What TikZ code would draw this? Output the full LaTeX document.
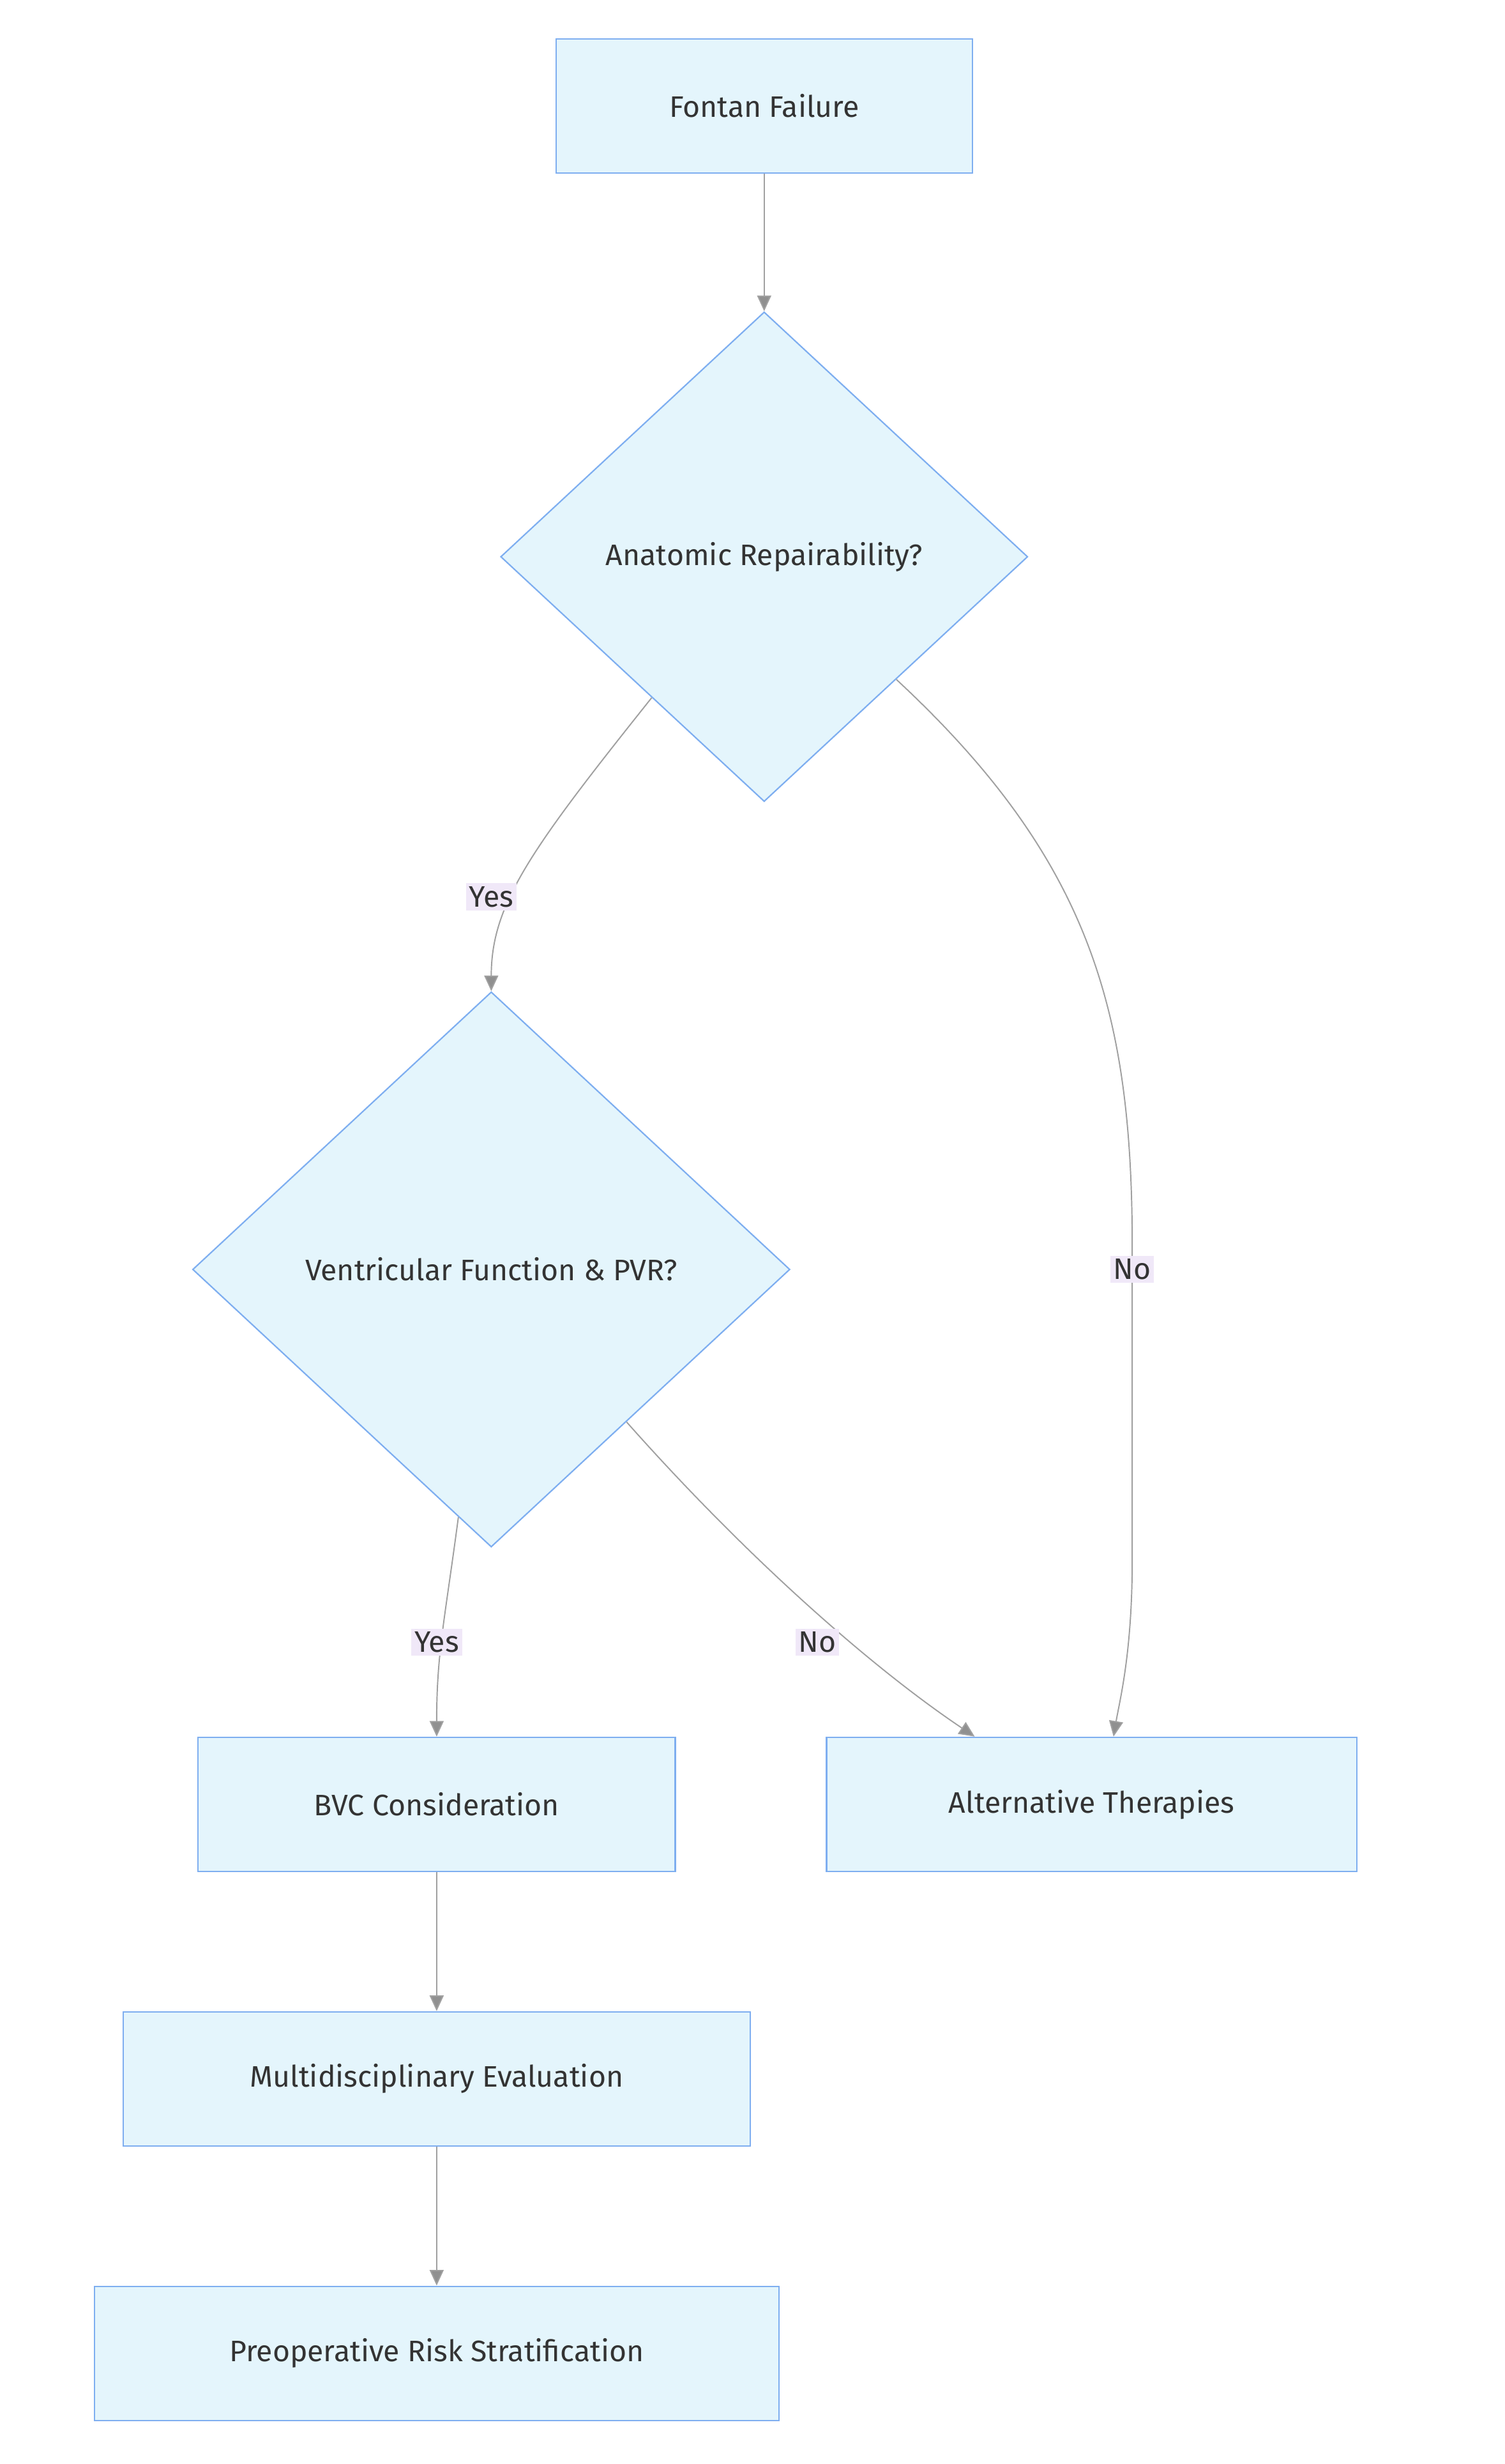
\documentclass[tikz,border=0pt]{standalone}
\usepackage{fontspec}
\setmainfont{Fira Sans}
\usetikzlibrary{shapes.geometric,arrows.meta}
\definecolor{nfill}{HTML}{E4F5FC}
\definecolor{nline}{HTML}{7EAEF0}
\definecolor{eline}{HTML}{A0A0A0}
\definecolor{lbl}{HTML}{F0E8F8}
\definecolor{txt}{HTML}{333333}
\begin{document}
\begin{tikzpicture}[x=1pt,y=-1pt,
  box/.style={draw=nline,fill=nfill,line width=0.9pt,inner sep=0,text=txt,font=\fontsize{19}{22}\selectfont},
  dia/.style={box,diamond},
  edge/.style={draw=eline,line width=0.8pt,-{Triangle[width=9pt,length=10pt,fill=eline!90!black]}},
  lab/.style={fill=lbl,text=txt,inner sep=2pt,font=\fontsize{19}{22}\selectfont}]
\useasboundingbox (0,0) rectangle (965,1580);
\node[box,minimum width=267pt,minimum height=86pt] (ff) at (490,68) {Fontan Failure};
\node[dia,minimum width=338pt,minimum height=314pt] (d1) at (490,357) {Anatomic Repairability?};
\node[dia,minimum width=383pt,minimum height=356pt] (d2) at (315,814) {Ventricular Function \& PVR?};
\node[box,minimum width=306pt,minimum height=86pt] (bvc) at (280,1157) {BVC Consideration};
\node[box,minimum width=340pt,minimum height=86pt] (alt) at (700,1157) {Alternative Therapies};
\node[box,minimum width=402pt,minimum height=86pt] (mde) at (280,1333) {Multidisciplinary Evaluation};
\node[box,minimum width=439pt,minimum height=86pt] (pre) at (280,1509) {Preoperative Risk Stratification};
\draw[edge] (ff) -- (d1);
\draw[edge] (d1) .. controls (340,545) and (315,580) .. (d2.north);
\draw[edge] (d1) .. controls (700,552) and (726,650) .. (726,800) -- (726,1000) .. controls (726,1060) and (718,1090) .. ([xshift=14pt]alt.north);
\draw[edge] (d2) .. controls (285,1040) and (280,1060) .. (bvc.north);
\draw[edge] (d2) .. controls (480,1000) and (560,1070) .. ([xshift=-75pt]alt.north);
\draw[edge] (bvc) -- (mde);
\draw[edge] (mde) -- (pre);
\node[lab] (l1) at (315,575) {Yes};
\node[lab] (l2) at (726,814) {No};
\node[lab] (l3) at (280,1053) {Yes};
\node[lab] (l4) at (524,1053) {No};
\end{tikzpicture}
\end{document}
